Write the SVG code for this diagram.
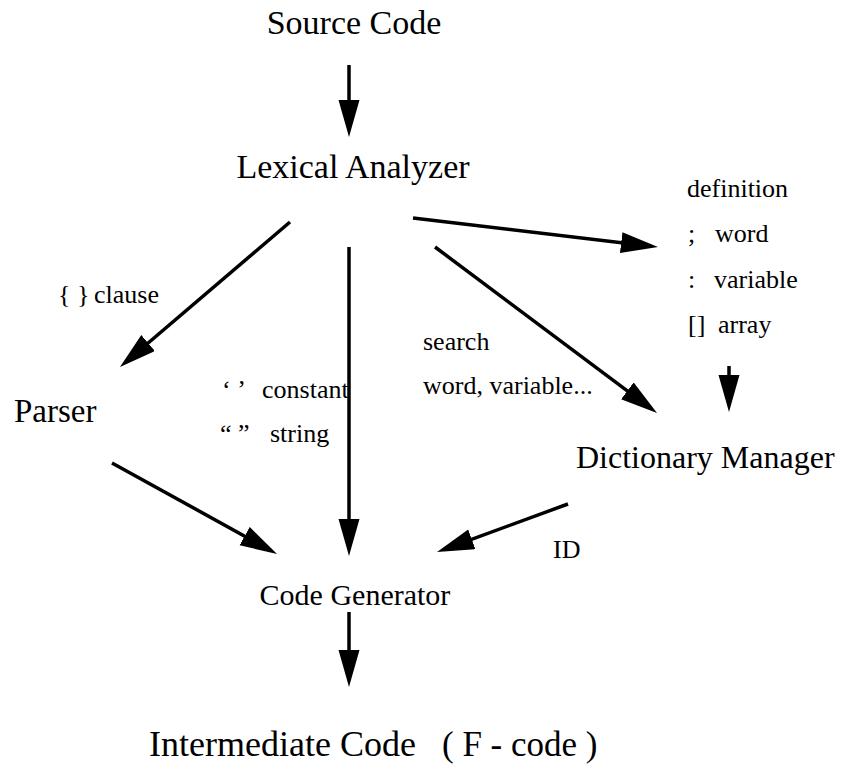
<svg xmlns="http://www.w3.org/2000/svg" width="848" height="764" viewBox="0 0 848 764">
<style>
.big{font-family:"Liberation Serif","Times New Roman",serif;font-size:33px;fill:#000}
.sm{font-family:"Liberation Serif","Times New Roman",serif;font-size:26px;fill:#000}
.ln{stroke:#000;stroke-width:3.5;fill:none;marker-end:url(#ah)}
</style>
<defs>
<marker id="ah" markerUnits="userSpaceOnUse" markerWidth="40" markerHeight="24" refX="30" refY="10.5" orient="auto">
<path d="M0,0 L37,10.5 L0,21 z" fill="#000"/>
</marker>
</defs>
<rect width="848" height="764" fill="#fff"/>
<g id="connectors">
<line class="ln" x1="349" y1="65" x2="349" y2="130"/>
<line class="ln" x1="290" y1="222" x2="125.3" y2="362.5"/>
<line class="ln" x1="413" y1="218" x2="651" y2="246.2"/>
<line class="ln" x1="435" y1="247" x2="651.4" y2="408.8"/>
<line class="ln" x1="349" y1="247" x2="349" y2="549"/>
<line class="ln" x1="729" y1="366" x2="729" y2="405"/>
<line class="ln" x1="112" y1="463" x2="270.9" y2="550.6"/>
<line class="ln" x1="568" y1="504" x2="443.6" y2="549.6"/>
<line class="ln" x1="349" y1="612" x2="349" y2="680"/>
</g>
<g id="source"><text class="big" x="354" y="34" text-anchor="middle" style="font-size:34px">Source Code</text></g>
<g id="lexical"><text class="big" x="353" y="178" text-anchor="middle" style="font-size:34px">Lexical Analyzer</text></g>
<g id="parser"><text class="big" x="14" y="422">Parser</text></g>
<g id="dictionary"><text class="big" x="576" y="468" style="font-size:32px">Dictionary Manager</text></g>
<g id="codegen"><text class="big" x="355" y="605" text-anchor="middle" style="font-size:30px">Code Generator</text></g>
<g id="intermediate"><text class="big" x="149" y="756" style="font-size:36px">Intermediate Code</text><text class="big" x="442" y="756" style="font-size:35px">( F - code )</text></g>
<g id="definitions">
<text class="sm" x="687" y="197">definition</text>
<text class="sm" x="688" y="242">;</text><text class="sm" x="715" y="242">word</text>
<text class="sm" x="688" y="288">:</text><text class="sm" x="714" y="288">variable</text>
<text class="sm" x="688" y="333">[]</text><text class="sm" x="718" y="333">array</text>
</g>
<g id="labels">
<text class="sm" x="58" y="303">{ }</text><text class="sm" x="94" y="303">clause</text>
<text class="sm" x="222" y="398">‘ ’</text><text class="sm" x="262" y="398">constant</text>
<text class="sm" x="220" y="442">“ ”</text><text class="sm" x="270" y="442">string</text>
<text class="sm" x="423" y="350">search</text>
<text class="sm" x="423" y="394">word, variable...</text>
<text class="sm" x="553" y="558">ID</text>
</g>
</svg>
